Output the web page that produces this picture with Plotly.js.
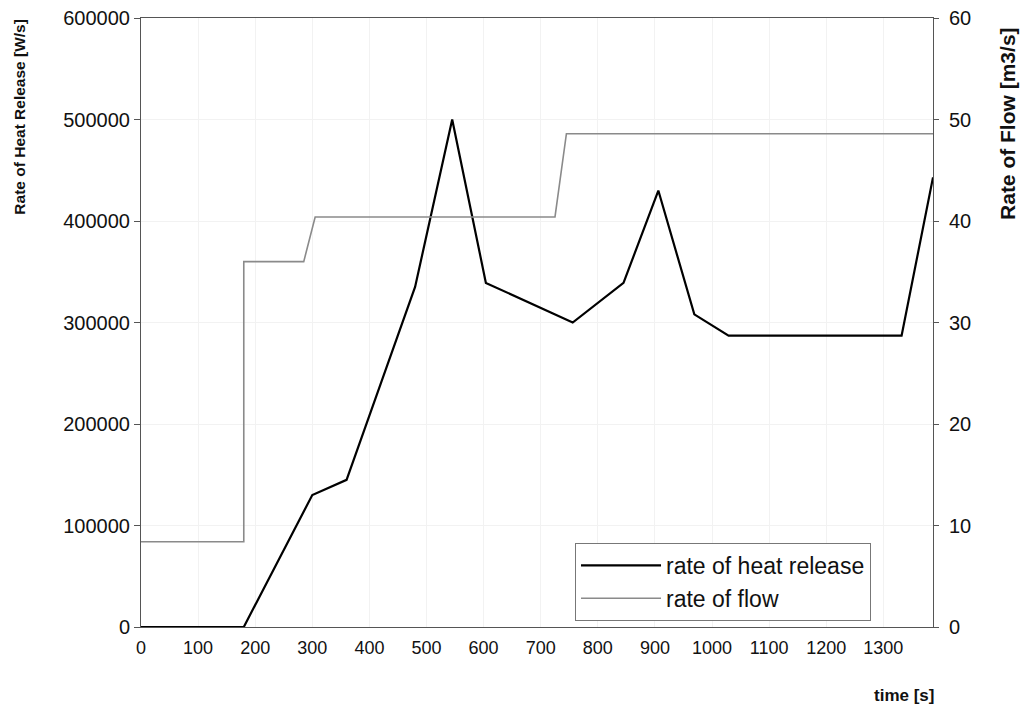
<!DOCTYPE html>
<html>
<head>
<meta charset="utf-8">
<script src="https://cdn.plot.ly/plotly-3.0.1.min.js"></script>
<style>html,body{margin:0;padding:0;background:#fff;}#chart{width:1027px;height:713px;}</style>
</head>
<body>
<div id="chart"></div>
<script>
// Heat release series (time in s, W/s)
const heatTime = [0, 180, 300, 360, 420, 480, 545, 604, 756, 845, 906, 969, 1029, 1332, 1387];
const heatValue = [0, 0, 130000, 145000, 240000, 335000, 500000, 339000, 300000, 339000, 430000, 308000, 287000, 287000, 443000];
// Flow series (time in s, m3/s)
const flowTime = [0, 180, 180, 285, 305, 725, 745, 1387];
const flowValue = [8.4, 8.4, 36, 36, 40.4, 40.4, 48.6, 48.6];
// Tick labels
const xTicks = [0, 100, 200, 300, 400, 500, 600, 700, 800, 900, 1000, 1100, 1200, 1300];
const yTicks = [0, 100000, 200000, 300000, 400000, 500000, 600000];
const y2Ticks = [0, 10, 20, 30, 40, 50, 60];

const FONT = 'Arial, "Liberation Sans", Helvetica, sans-serif';

const traces = [
  {x: heatTime, y: heatValue, type: 'scatter', mode: 'lines', name: 'rate of heat release',
   line: {color: '#000000', width: 2.2}, yaxis: 'y'},
  {x: flowTime, y: flowValue, type: 'scatter', mode: 'lines', name: 'rate of flow',
   line: {color: '#8a8a8a', width: 1.6}, yaxis: 'y2'}
];

const layout = {
  width: 1027, height: 713,
  margin: {l: 141, r: 94, t: 18, b: 86},
  paper_bgcolor: '#ffffff', plot_bgcolor: '#ffffff',
  font: {family: FONT, color: '#111111'},
  showlegend: true,
  legend: {
    x: 0.548, y: 0.138, xanchor: 'left', yanchor: 'top',
    bgcolor: '#ffffff', bordercolor: '#777777', borderwidth: 1,
    font: {family: FONT, size: 23, color: '#111111'},
    tracegroupgap: 0, itemwidth: 80
  },
  xaxis: {
    range: [0, 1387], tickvals: xTicks, ticktext: xTicks.map(String),
    ticks: '', showgrid: true, gridcolor: '#f2f2f2', zeroline: false,
    showline: true, linecolor: '#555555', linewidth: 1, mirror: true,
    tickfont: {family: FONT, size: 18, color: '#111111'}, ticklabelstandoff: 4
  },
  yaxis: {
    range: [0, 600000], tickvals: yTicks, ticktext: yTicks.map(String),
    ticks: 'outside', ticklen: 6, tickcolor: '#555555',
    showgrid: true, gridcolor: '#f2f2f2', zeroline: false,
    showline: true, linecolor: '#555555', linewidth: 1,
    tickfont: {family: FONT, size: 20, color: '#111111'}
  },
  yaxis2: {
    range: [0, 60], tickvals: y2Ticks, ticktext: y2Ticks.map(String),
    overlaying: 'y', side: 'right', anchor: 'x',
    ticks: 'outside', ticklen: 5, tickcolor: '#555555',
    showgrid: false, zeroline: false,
    showline: true, linecolor: '#555555', linewidth: 1,
    tickfont: {family: FONT, size: 20, color: '#111111'}, ticklabelstandoff: 6
  },
  annotations: [
    {text: '<b>Rate of Heat Release [W/s]</b>', xref: 'paper', yref: 'paper',
     x: -0.1528, y: 0.838, textangle: -90, showarrow: false,
     xanchor: 'center', yanchor: 'middle', font: {family: FONT, size: 15.5, color: '#111111'}},
    {text: '<b>Rate of Flow [m3/s]</b>', xref: 'paper', yref: 'paper',
     x: 1.0947, y: 0.826, textangle: -90, showarrow: false,
     xanchor: 'center', yanchor: 'middle', font: {family: FONT, size: 21, color: '#111111'}},
    {text: '<b>time [s]</b>', xref: 'paper', yref: 'paper',
     x: 0.963, y: -0.1117, showarrow: false,
     xanchor: 'center', yanchor: 'middle', font: {family: FONT, size: 17, color: '#111111'}}
  ]
};

Plotly.newPlot('chart', traces, layout, {displayModeBar: false, staticPlot: true});
</script>
</body>
</html>
